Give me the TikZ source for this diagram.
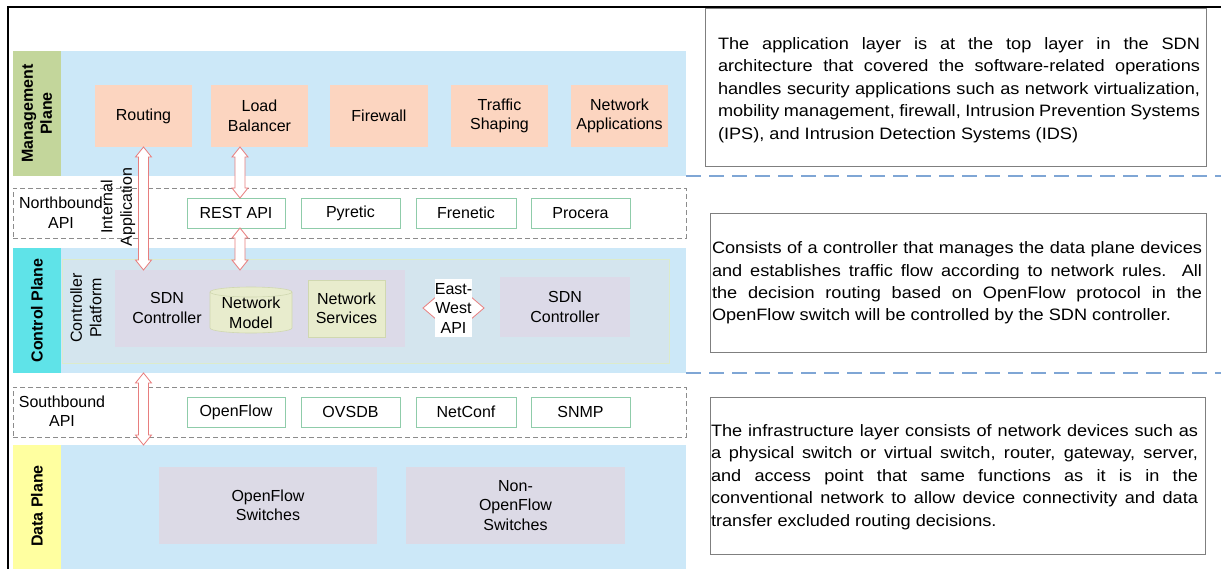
\documentclass[tikz,border=0pt]{standalone}
\usepackage{fontspec}
\setmainfont{Liberation Sans}
\newfontfamily\rfont[FakeStretch=1.1]{Liberation Sans}
\usetikzlibrary{calc}
\definecolor{planeblue}{HTML}{CCE8F8}
\definecolor{mgreen}{HTML}{C3D69B}
\definecolor{ccyan}{HTML}{5FE3E8}
\definecolor{dyellow}{HTML}{FFFFA0}
\definecolor{peachc}{HTML}{FCD5C0}
\definecolor{apigreen}{HTML}{8FCCAA}
\definecolor{platfill}{HTML}{D4E5EE}
\definecolor{platdraw}{HTML}{DCEBCB}
\definecolor{sdnfill}{HTML}{DCDAE8}
\definecolor{nmfill}{HTML}{E8ECCD}
\definecolor{nmdraw}{HTML}{D0D8B0}
\definecolor{swfill}{HTML}{DCDAE6}
\definecolor{arrred}{HTML}{E87E7E}
\definecolor{sepblue}{HTML}{7FA6D5}
\definecolor{dashgray}{HTML}{8C8C8C}
\definecolor{rboxgray}{HTML}{7F7F7F}
\newcommand\leftfnt{\fontsize{16}{19.5}\selectfont}
\newcommand\rightfnt{\rfont\fontsize{16.5}{22.4}\selectfont}
% box node from corners: style, x1, y1, x2, y2, name  (text follows)
\newcommand\bnode[6]{\node[#1, minimum width={(#4)-(#2)}, minimum height={(#5)-(#3)}] (#6) at ({((#2)+(#4))/2},{((#3)+(#5))/2})}
\newcommand\vdarrow[2]{\path[harrow] let \p1=(#1), \p2=(#2) in (\x1,\y1) -- (\x1+8pt,\y1-10pt) -- (\x1+5pt,\y1-10pt) -- (\x1+5pt,\y2+10pt) -- (\x1+8pt,\y2+10pt) -- (\x1,\y2) -- (\x1-8pt,\y2+10pt) -- (\x1-5pt,\y2+10pt) -- (\x1-5pt,\y1-10pt) -- (\x1-8pt,\y1-10pt) -- cycle;}
\newcommand\hdarrow[2]{\path[harrow] let \p1=(#1), \p2=(#2) in (\x1,\y1) -- (\x1+14pt,\y1+12pt) -- (\x1+14pt,\y1+6pt) -- (\x2-14pt,\y1+6pt) -- (\x2-14pt,\y1+12pt) -- (\x2,\y1) -- (\x2-14pt,\y1-12pt) -- (\x2-14pt,\y1-6pt) -- (\x1+14pt,\y1-6pt) -- (\x1+14pt,\y1-12pt) -- cycle;}
\begin{document}
\begin{tikzpicture}[x=1pt,y=-1pt,
  plane/.style={fill=planeblue, inner sep=0, outer sep=0, draw=none},
  strip/.style={inner sep=0, outer sep=0, draw=none, align=center, font=\leftfnt},
  peach/.style={fill=peachc, inner sep=0, outer sep=0, align=center, font=\leftfnt},
  api/.style={draw=apigreen, fill=white, inner sep=0, outer sep=0, font=\leftfnt, line width=0.8},
  dashbox/.style={draw=dashgray, dash pattern=on 5pt off 3pt, inner sep=0, outer sep=0, line width=0.7},
  txt/.style={font=\leftfnt, align=center, inner sep=0},
  vlab/.style={font=\bfseries\fontsize{16}{19}\selectfont, align=center, inner sep=0, rotate=90},
  harrow/.style={draw=arrred, fill=white, line width=0.8},
  sep/.style={draw=sepblue, line width=1.6, dash pattern=on 15pt off 8pt},
  rbox/.style={draw=rboxgray, line width=0.8, inner sep=0, outer sep=0},
  rtxt/.style={font=\rightfnt, align=justify, inner sep=0}]
\useasboundingbox (0,0) rectangle (1221,568);
\fill[white] (0,0) rectangle (1221,568);
% outer frame
\draw[line width=1.5] (8,570) -- (8,7) -- (1223,7);

% Management plane
\bnode{plane}{13}{51}{686}{176}{mp} {};
\bnode{strip, fill=mgreen}{13}{51}{61}{176}{mpl} {};
\node[vlab] (mplt) at (mpl.center) {Management\\Plane};
\bnode{peach}{95}{85}{192}{147}{routing} {Routing};
\bnode{peach}{211}{85}{308}{147}{lb} {Load\\Balancer};
\bnode{peach}{330}{85}{428}{147}{fw} {Firewall};
\bnode{peach}{451}{85}{548}{147}{ts} {Traffic\\Shaping};
\bnode{peach}{571}{85}{668}{147}{na} {Network\\Applications};

% Northbound API
\bnode{dashbox}{13}{188}{686}{238}{nb} {};
\node[txt] (nbl) at (61,212.5) {Northbound\\API};
\bnode{api}{187}{198}{285}{228}{rest} {REST API};
\bnode{api}{301}{198}{400}{228}{pyr} {Pyretic};
\bnode{api}{416}{198}{516}{228}{fre} {Frenetic};
\bnode{api}{531}{198}{630}{228}{pro} {Procera};
\node[txt, rotate=90] (intapp) at (118,207) {Internal\\Application};

% Control plane
\bnode{plane}{13}{248}{686}{373}{cp} {};
\bnode{strip, fill=ccyan}{13}{248}{61}{373}{cpl} {};
\node[vlab] (cplt) at (cpl.center) {Control Plane};
\bnode{strip, draw=platdraw, fill=platfill, line width=0.8}{62}{259}{669}{363}{plat} {};
\node[txt, rotate=90] (platt) at (86,308) {Controller\\Platform};
\bnode{strip, fill=sdnfill}{115}{270}{405}{347}{sdnl} {};
\node[txt] (sdnlt) at (167,308) {SDN\\Controller};
\path[fill=nmfill, draw=nmdraw, line width=0.6] (210,292) -- (210,328) arc[start angle=180,end angle=360,x radius=41pt,y radius=5pt] -- (292,292) arc[start angle=0,end angle=180,x radius=41pt,y radius=5pt] -- cycle;
\draw[nmdraw, line width=0.6] (210,292) arc[start angle=180,end angle=360,x radius=41pt,y radius=5pt];
\node[txt] (nm) at (251,313) {Network\\Model};
\bnode{strip, fill=nmfill, draw=nmdraw, line width=0.5}{308}{280}{385}{337}{ns} {Network\\Services};
\coordinate (ewl) at (423,308);
\coordinate (ewr) at (484,308);
\hdarrow{ewl}{ewr}
\bnode{strip, fill=white}{435}{279}{472}{337}{ew} {East-\\West\\API};
\bnode{strip, fill=sdnfill}{500}{277}{630}{337}{sdnr} {SDN\\Controller};

% Southbound API
\bnode{dashbox}{13}{387}{686}{437}{sb} {};
\node[txt] (sbl) at (62,411) {Southbound\\API};
\bnode{api}{187}{397}{285}{427}{of} {OpenFlow};
\bnode{api}{301}{397}{400}{427}{ovs} {OVSDB};
\bnode{api}{416}{397}{516}{427}{nc} {NetConf};
\bnode{api}{531}{397}{630}{427}{snmp} {SNMP};

% Data plane
\bnode{plane}{13}{445}{686}{572}{dp} {};
\bnode{strip, fill=dyellow}{13}{445}{61}{572}{dpl} {};
\node[vlab] (dplt) at (37,506) {Data Plane};
\bnode{strip, fill=swfill}{159}{467}{377}{544}{ofs} {OpenFlow\\Switches};
\bnode{strip, fill=swfill}{406}{467}{625}{544}{nofs} {Non-\\OpenFlow\\Switches};

% arrows
\vdarrow{routing.south}{routing.south |- sdnl.north}
\vdarrow{$(lb.south -| rest.north)+(4,0)$}{$(rest.north)+(4,0)$}
\vdarrow{$(rest.south)+(4,0)$}{$(rest.south |- sdnl.north)+(4,0)$}
\vdarrow{routing.south |- cp.south}{routing.south |- dp.north}

% separators
\draw[sep] (mp.south east) -- (mp.south east -| 1221,0);
\draw[sep] (cp.south east) -- (cp.south east -| 1221,0);

% right text boxes
\bnode{rbox}{705}{8}{1206}{166}{r1} {};
\node[rtxt, text width=482pt] (r1t) at (959,90) {The application layer is at the top layer in the SDN\linebreak architecture that covered the software-related operations\linebreak handles security applications such as network virtualization,\linebreak mobility management, firewall, Intrusion Prevention Systems\linebreak (IPS), and Intrusion Detection Systems (IDS)};
\bnode{rbox}{710}{213}{1206}{352}{r2} {};
\node[rtxt, text width=490pt] (r2t) at (957,283) {Consists of a controller that manages the data plane devices\linebreak and establishes traffic flow according to network rules. All\linebreak the decision routing based on OpenFlow protocol in the\linebreak OpenFlow switch will be controlled by the SDN controller.};
\bnode{rbox}{710}{397}{1205}{554}{r3} {};
\node[rtxt, text width=487pt] (r3t) at (954.5,477) {The infrastructure layer consists of network devices such as\linebreak a physical switch or virtual switch, router, gateway, server,\linebreak and access point that same functions as it is in the\linebreak conventional network to allow device connectivity and data\linebreak transfer excluded routing decisions.};
\end{tikzpicture}
\end{document}
